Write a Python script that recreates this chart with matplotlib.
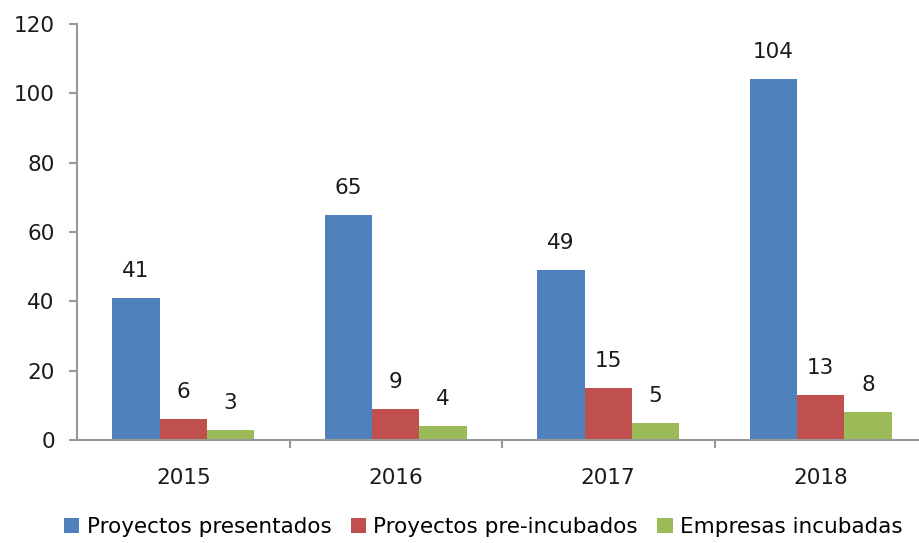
import numpy as np
import matplotlib.pyplot as plt
from matplotlib.ticker import FixedLocator

years = ['2015', '2016', '2017', '2018']
presentados = [41, 65, 49, 104]
pre_incubados = [6, 9, 15, 13]
incubadas = [3, 4, 5, 8]
series_names = ['Proyectos presentados', 'Proyectos pre-incubados', 'Empresas incubadas']
colors = ['#4F81BD', '#C0504D', '#9BBB59']

fs = 15.5

fig = plt.figure(figsize=(9.19, 5.43), dpi=100)
ax = fig.add_axes([77 / 919, 1 - 440 / 543, 1 - 77 / 919, (440 - 24) / 543])

x = np.arange(len(years))
w = 0.222
for i, (vals, name, c) in enumerate(zip([presentados, pre_incubados, incubadas], series_names, colors)):
    pos = x + (i - 1) * w
    ax.bar(pos, vals, width=w, color=c, label=name)
    for p, v in zip(pos, vals):
        ax.annotate(str(v), (p, v), xytext=(0, 19.5), textcoords='offset points',
                    ha='center', va='center', fontsize=fs, color='#1a1a1a')

ax.set_xlim(-0.5, -0.5 + 842 / 212.5)
ax.set_ylim(0, 120)
ax.set_yticks(range(0, 121, 20))
ax.set_xticks(x)
ax.set_xticklabels(years)
ax.xaxis.set_minor_locator(FixedLocator([0.5, 1.5, 2.5]))

for s in ['top', 'right']:
    ax.spines[s].set_visible(False)
for s in ['left', 'bottom']:
    ax.spines[s].set_color('#999999')
    ax.spines[s].set_linewidth(1.5)

ax.tick_params(axis='y', length=6, width=1.5, color='#999999', labelsize=fs, pad=10, labelcolor='#1a1a1a')
ax.tick_params(axis='x', which='major', length=0, labelsize=fs, pad=20, labelcolor='#1a1a1a')
ax.tick_params(axis='x', which='minor', length=6, width=1.5, color='#999999')

fig.legend(loc='center', bbox_to_anchor=(0.526, 1 - 527 / 543), ncol=3, frameon=False,
           fontsize=fs, handlelength=0.7, handleheight=0.7, handletextpad=0.35,
           columnspacing=0.9)

fig.savefig('out.png', dpi=100)
